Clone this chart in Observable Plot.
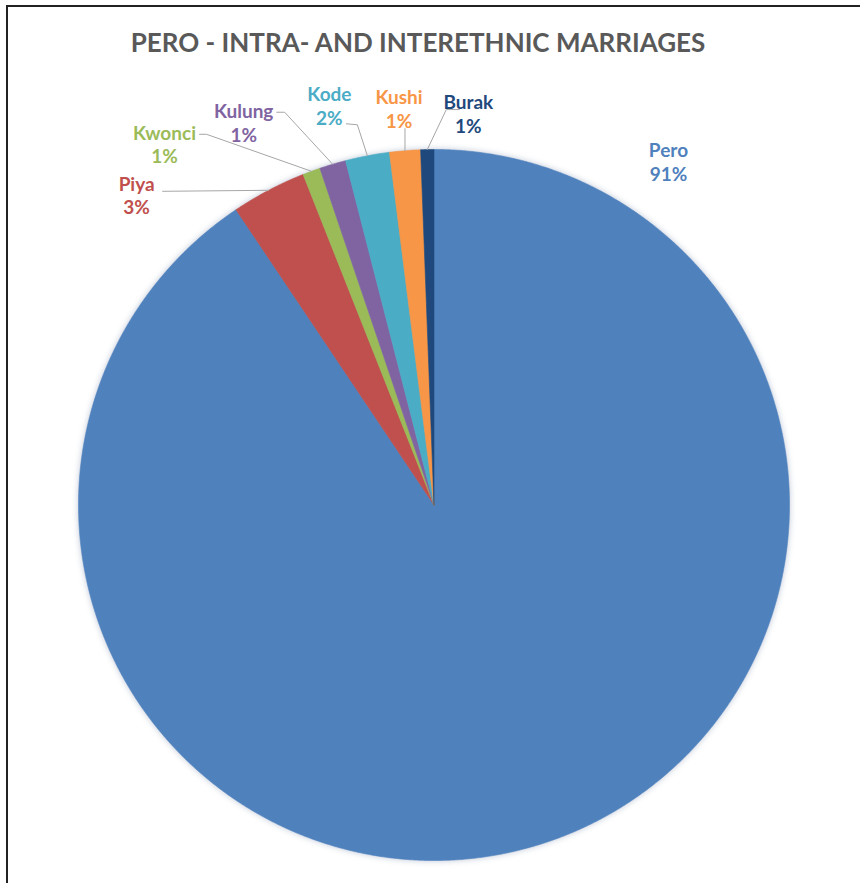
<!DOCTYPE html>
<html><head><meta charset="utf-8">
<script src="https://cdn.jsdelivr.net/npm/d3@7"></script>
<script src="https://cdn.jsdelivr.net/npm/@observablehq/plot@0.6"></script>
<style>
body{margin:0;background:#fff;}
#wrap{position:relative;width:860px;height:883px;overflow:hidden;background:#fff;}
#chart{position:absolute;left:0;top:0;}
#title{position:absolute;left:0;top:29px;width:836px;text-align:center;font-family:Lato,sans-serif;font-weight:bold;font-size:26px;color:#595959;line-height:1;}
#frame{position:absolute;left:6px;top:5px;width:900px;height:900px;border-top:2px solid #222;border-left:2px solid #222;}
.pie-slices{filter:drop-shadow(0 0 3px rgba(110,130,165,0.45));}
</style></head><body>
<div id="wrap"><div id="chart"></div><div id="title"></div><div id="frame"></div></div>
<script>
// ---- data ----
const groups = ["Pero", "Piya", "Kwonci", "Kulung", "Kode", "Kushi", "Burak"];
const counts = [453, 17, 4, 6, 10, 7, 3];
const colors = ["#4f81bd", "#c0504d", "#9bbb59", "#8064a2", "#4bacc6", "#f79646", "#1f497d"];
const chartTitle = "PERO - INTRA- AND INTERETHNIC MARRIAGES";

// ---- label layout (pixel offsets from each slice's outer mid-point) ----
const labelOffsets = [[131, -695], [-132, -7], [-147, -39], [-89, -53], [-38, -62], [-6, -54], [41, -48]];
const leaderOffsets = [
  [],
  [[-106, 1]],
  [[-105, -37], [-112, -37]],
  [[-48, -52], [-56, -52]],
  [[-10, -31], [-21, -32]],
  [[0, -22]],
  [[19, -40], [32, -40]]
];
const pxPerUnit = (789 - 78) / 2;

document.getElementById("title").textContent = chartTitle;

const total = d3.sum(counts);
const arcs = d3.pie().sort(null).value(d => d)(counts);

const slicePts = [];
arcs.forEach((a, i) => {
  const name = groups[i];
  slicePts.push({name, x: 0, y: 0});
  const n = Math.max(2, Math.ceil((a.endAngle - a.startAngle) / (Math.PI / 720)));
  for (let k = 0; k <= n; k++) {
    const t = a.startAngle + (a.endAngle - a.startAngle) * k / n;
    slicePts.push({name, x: Math.sin(t), y: Math.cos(t)});
  }
  slicePts.push({name, x: 0, y: 0});
});

const labels = [];
const leaders = [];
arcs.forEach((a, i) => {
  const name = groups[i];
  const mid = (a.startAngle + a.endAngle) / 2;
  const ax = Math.sin(mid), ay = Math.cos(mid);
  const pct = Math.round(counts[i] / total * 100);
  const [ldx, ldy] = labelOffsets[i];
  labels.push({name, x: ax + ldx / pxPerUnit, y: ay - (ldy + 11.5) / pxPerUnit, text: `${name}\n${pct}%`});
  if (leaderOffsets[i].length) {
    leaders.push({name, x: ax, y: ay});
    leaderOffsets[i].forEach(([dx, dy]) => leaders.push({name, x: ax + dx / pxPerUnit, y: ay - dy / pxPerUnit}));
  }
});

const chart = Plot.plot({
  width: 860,
  height: 883,
  margin: 0,
  style: {background: "transparent", fontFamily: "Lato, sans-serif"},
  x: {domain: [-1, 1], range: [78, 789], axis: null},
  y: {domain: [-1, 1], range: [860, 149], axis: null},
  color: {domain: groups, range: colors},
  marks: [
    Plot.line(slicePts, {x: "x", y: "y", z: "name", fill: "name", stroke: "name", strokeWidth: 0.6, curve: "linear", className: "pie-slices"}),
    Plot.line(leaders, {x: "x", y: "y", z: "name", stroke: "#a6a6a6", strokeWidth: 1, curve: "linear"}),
    Plot.text(labels, {x: "x", y: "y", text: "text", fill: "name", fontSize: 19, fontWeight: "bold", lineHeight: 1.25, lineAnchor: "middle", textAnchor: "middle"})
  ]
});
document.getElementById("chart").appendChild(chart);
</script>
</body></html>
